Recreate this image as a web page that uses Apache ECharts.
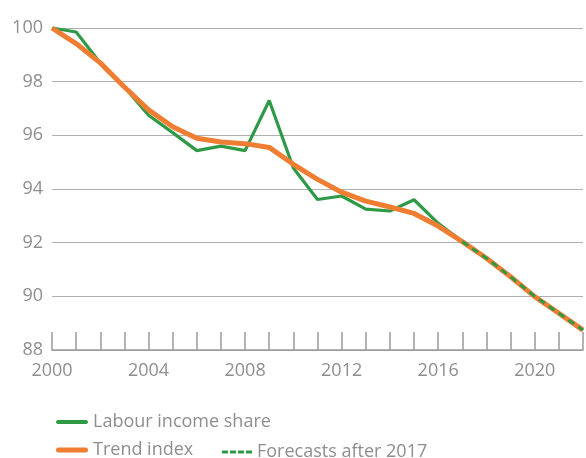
<!DOCTYPE html>
<html>
<head>
<meta charset="utf-8">
<script src="https://cdn.jsdelivr.net/npm/echarts@6/dist/echarts.min.js"></script>
<style>
html,body{margin:0;padding:0;background:#fff;}
#chart{width:586px;height:458px;}
</style>
</head>
<body>
<div id="chart"></div>
<script>
var years = [2000,2001,2002,2003,2004,2005,2006,2007,2008,2009,2010,2011,2012,2013,2014,2015,2016,2017,2018,2019,2020,2021,2022];
var labourShare = [100,99.85,98.7,97.8,96.75,96.1,95.43,95.6,95.43,97.3,94.78,93.61,93.74,93.25,93.18,93.6,92.72,92.04];
var trendIndex = [100,99.42,98.7,97.8,96.95,96.32,95.89,95.75,95.69,95.55,94.92,94.36,93.88,93.55,93.33,93.09,92.62,92.04,91.42,90.73,89.99,89.37,88.74];
var forecastYears = [2017,2018,2019,2020,2021,2022];
var forecast = [92.04,91.42,90.73,90.0,89.37,88.74];
var yTicks = [88,90,92,94,96,98,100];
var xLabelYears = [2000,2004,2008,2012,2016,2020];

var names = ['Labour income share','Trend index','Forecasts after 2017'];
var green = '#2f9a46', orange = '#ef7d32', grey = '#8e8e8e';
var font = 'Open Sans';

function pairs(xs, ys){ return ys.map(function(v,i){ return [xs[i], v]; }); }

var chart = echarts.init(document.getElementById('chart'), null, {renderer:'canvas'});
chart.setOption({
  animation:false,
  grid:{left:52, right:0, top:28, bottom:108, containLabel:false},
  xAxis:{
    type:'value', min:2000, max:2022, interval:1,
    axisLine:{show:true, lineStyle:{color:'#9a9a9a', width:1.5}},
    axisTick:{show:true, inside:true, length:18, lineStyle:{color:'#9a9a9a', width:1.5}},
    axisLabel:{
      margin:12, color:grey, fontSize:18, fontFamily:font,
      formatter:function(v){ return xLabelYears.indexOf(v) >= 0 ? String(v) : ''; }
    },
    splitLine:{show:false}
  },
  yAxis:{
    type:'value', min:yTicks[0], max:yTicks[yTicks.length-1], interval:2,
    axisLine:{show:false}, axisTick:{show:false},
    axisLabel:{margin:9, color:grey, fontSize:18, fontFamily:font},
    splitLine:{show:true, lineStyle:{color:'#b0b0b0', width:1.2}}
  },
  legend:[
    {data:[names[0]], left:51, top:408, itemWidth:32, itemHeight:14, icon:'path://M2,5 L30,5 A2,2 0 0 1 30,9 L2,9 A2,2 0 0 1 2,5 Z',
     itemStyle:{color:green}, textStyle:{color:grey, fontSize:18, fontFamily:font}, selectedMode:false},
    {data:[names[1]], left:51, top:436, itemWidth:32, itemHeight:14, icon:'path://M2.5,4.5 L29.5,4.5 A2.5,2.5 0 0 1 29.5,9.5 L2.5,9.5 A2.5,2.5 0 0 1 2.5,4.5 Z',
     itemStyle:{color:orange}, textStyle:{color:grey, fontSize:18, fontFamily:font}, selectedMode:false},
    {data:[names[2]], left:217, top:438, itemWidth:30, itemHeight:14, icon:'path://M0,5.5 L6,5.5 L6,8.5 L0,8.5 Z M8,5.5 L14,5.5 L14,8.5 L8,8.5 Z M16,5.5 L22,5.5 L22,8.5 L16,8.5 Z M24,5.5 L30,5.5 L30,8.5 L24,8.5 Z',
     itemStyle:{color:green}, textStyle:{color:grey, fontSize:18, fontFamily:font}, selectedMode:false}
  ],
  series:[
    {name:names[0], type:'line', data:pairs(years, labourShare), showSymbol:false, symbol:'none',
     lineStyle:{color:green, width:3.2}, itemStyle:{color:green}, z:2},
    {name:names[1], type:'line', data:pairs(years, trendIndex), showSymbol:false, symbol:'none',
     lineStyle:{color:orange, width:5}, itemStyle:{color:orange}, z:3},
    {name:names[2], type:'line', data:pairs(forecastYears, forecast), showSymbol:false, symbol:'none',
     lineStyle:{color:green, width:3, type:[7,5]}, itemStyle:{color:green}, z:4}
  ]
});
</script>
</body>
</html>
